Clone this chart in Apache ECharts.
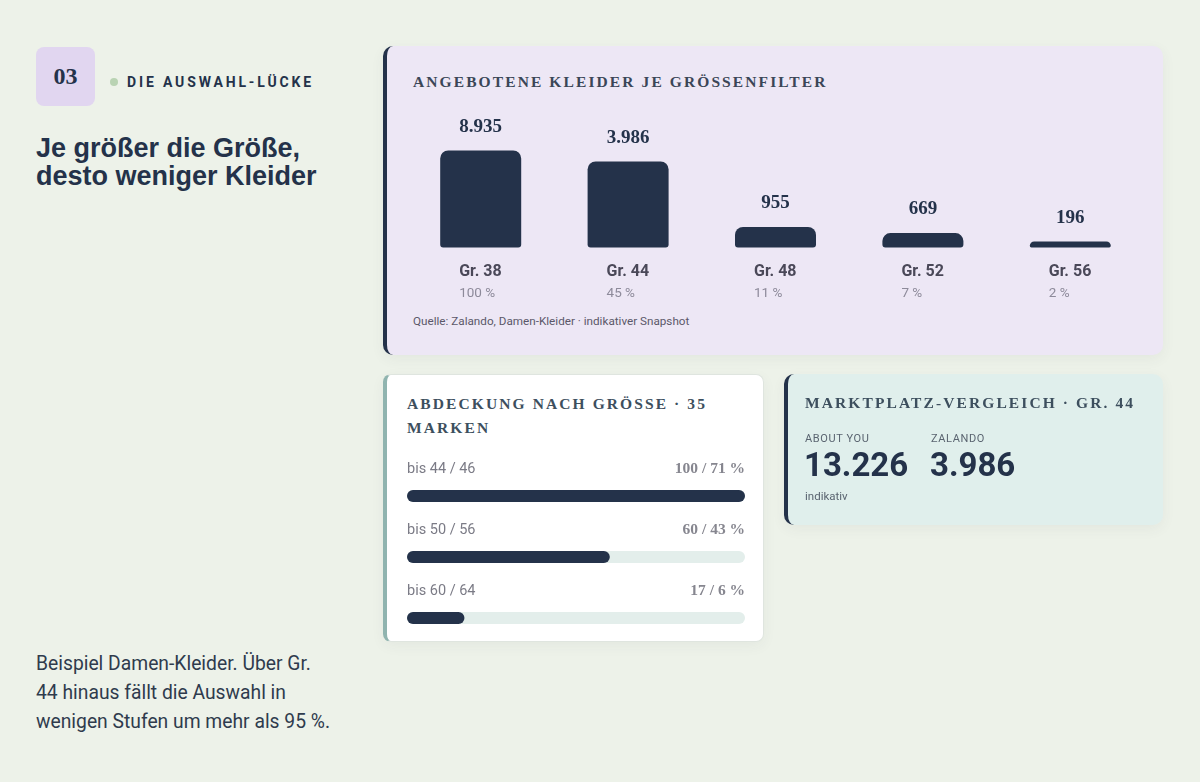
<!DOCTYPE html>
<html><head><meta charset="utf-8">
<script src="https://cdn.jsdelivr.net/npm/echarts@6/dist/echarts.min.js"></script>
<style>
html,body{margin:0;padding:0;width:1200px;height:782px;background:#edf2e9;overflow:hidden;font-family:Roboto,"Noto Sans",sans-serif;}
.abs{position:absolute;}
.badge{left:36px;top:47px;width:59px;height:59px;background:#e1d6f0;border-radius:8px;color:#24324a;font:bold 24px "Liberation Serif",serif;display:flex;align-items:center;justify-content:center;}
.dot{left:110px;top:78px;width:8px;height:8px;border-radius:50%;background:#b9d3b3;}
.kicker{left:127px;top:73px;font:bold 14px Roboto,sans-serif;letter-spacing:2.85px;color:#24324a;line-height:18px;white-space:nowrap;}
.title{left:36px;top:134px;font:bold 27px "Liberation Sans",Arial,sans-serif;color:#24324a;line-height:28px;white-space:nowrap;}
.body{left:36px;top:649px;font:19.3px Roboto,sans-serif;color:#2f3b4d;line-height:29px;white-space:nowrap;}
.card1{left:383px;top:46px;width:776px;height:309px;background:#ede7f5;border-left:4px solid #24324a;border-radius:10px;box-shadow:0 4px 14px rgba(60,60,80,0.06);}
.card2{left:383px;top:374px;width:376px;height:266px;background:#ffffff;border:1px solid #dfe5df;border-left:4px solid #90b4af;border-radius:8px;box-shadow:0 4px 14px rgba(60,60,80,0.05);}
.card3{left:784px;top:374px;width:375px;height:151px;background:#e0efec;border-left:4px solid #24324a;border-radius:10px;box-shadow:0 4px 14px rgba(60,60,80,0.06);}
.ctitle{font:bold 15.5px "Liberation Serif",serif;letter-spacing:2.1px;color:#3b4657;white-space:nowrap;line-height:24px;}
.src{left:413px;top:314px;font:11.7px Roboto,sans-serif;color:#5b5869;white-space:nowrap;line-height:14px;}
.small{font:11px Roboto,sans-serif;color:#5a6470;letter-spacing:0.6px;white-space:nowrap;line-height:14px;}
.big{font:bold 33px Roboto,sans-serif;color:#24324a;white-space:nowrap;line-height:36px;}
</style></head>
<body>
<div class="abs badge">03</div>
<div class="abs dot"></div>
<div class="abs kicker">DIE AUSWAHL-LÜCKE</div>
<div class="abs title">Je größer die Größe,<br>desto weniger Kleider</div>
<div class="abs body">Beispiel Damen-Kleider. Über Gr.<br>44 hinaus fällt die Auswahl in<br>wenigen Stufen um mehr als 95 %.</div>

<div class="abs card1"></div>
<div class="abs ctitle" style="left:413px;top:70px;">ANGEBOTENE KLEIDER JE GRÖSSENFILTER</div>
<div class="abs src">Quelle: Zalando, Damen-Kleider · indikativer Snapshot</div>
<div id="c1" class="abs" style="left:383px;top:46px;width:780px;height:309px;"></div>

<div class="abs card2"></div>
<div class="abs ctitle" style="left:407px;top:392px;color:#3d4f5e;">ABDECKUNG NACH GRÖSSE · 35<br>MARKEN</div>
<div id="c2" class="abs" style="left:383px;top:374px;width:381px;height:300px;"></div>

<div class="abs card3"></div>
<div class="abs ctitle" style="left:805px;top:391px;color:#3d4f5e;">MARKTPLATZ-VERGLEICH · GR. 44</div>
<div class="abs small" id="m1l" style="left:805px;top:432px;"></div>
<div class="abs small" id="m2l" style="left:931px;top:432px;"></div>
<div class="abs big" id="m1v" style="left:804px;top:447px;"></div>
<div class="abs big" id="m2v" style="left:930px;top:447px;"></div>
<div class="abs small" style="left:805px;top:489px;letter-spacing:0;font-size:11.5px;">indikativ</div>

<script>
// ---- data ----
const sizes = ['Gr. 38', 'Gr. 44', 'Gr. 48', 'Gr. 52', 'Gr. 56'];
const dressCounts = [8935, 3986, 955, 669, 196];
const sharePct = [100, 45, 11, 7, 2];

const coverageLabels = ['bis 44 / 46', 'bis 50 / 56', 'bis 60 / 64'];
const coverageBrands = [100, 60, 17];
const coverageShare = [71, 43, 6];

const marketNames = ['ABOUT YOU', 'ZALANDO'];
const marketValues = [13226, 3986];

const fmt = v => String(v).replace(/\B(?=(\d{3})+(?!\d))/g, '.');
const NAVY = '#24324a';

document.getElementById('m1l').textContent = marketNames[0];
document.getElementById('m2l').textContent = marketNames[1];
document.getElementById('m1v').textContent = fmt(marketValues[0]);
document.getElementById('m2v').textContent = fmt(marketValues[1]);

// ---- chart 1 ----
const c1 = echarts.init(document.getElementById('c1'), null, {renderer: 'canvas'});
c1.setOption({
  animation: false,
  grid: {left: 24, top: 104.5, width: 737, height: 97},
  xAxis: {
    type: 'category', data: sizes,
    axisLine: {show: false}, axisTick: {show: false},
    axisLabel: {
      margin: 13,
      formatter: (v, i) => '{a|' + v + '}\n{b|' + sharePct[i] + ' %}',
      rich: {
        a: {fontFamily: 'Roboto', fontWeight: 'bold', fontSize: 16, color: '#4a4858', lineHeight: 22, width: 43, align: 'left'},
        b: {fontFamily: 'Roboto', fontSize: 13.5, color: '#8d8a9a', lineHeight: 22, width: 43, align: 'left'}
      }
    }
  },
  yAxis: {type: 'value', min: 0, max: 4496, show: false, splitLine: {show: false}},
  series: [{
    type: 'bar', data: dressCounts, clip: true,
    barWidth: 81, barMinHeight: 6,
    itemStyle: {color: NAVY, borderRadius: [8, 8, 3, 3]},
    label: {
      show: true, position: 'top', distance: 14,
      formatter: p => fmt(p.value),
      fontFamily: '"Liberation Serif", serif', fontWeight: 'bold', fontSize: 19, color: NAVY
    }
  }]
});

// ---- chart 2 ----
const c2 = echarts.init(document.getElementById('c2'), null, {renderer: 'canvas'});
c2.setOption({
  animation: false,
  grid: {left: 24, top: 91.5, width: 338, height: 183},
  xAxis: {type: 'value', min: 0, max: 100, show: false},
  yAxis: {type: 'category', data: coverageLabels, inverse: true, show: false},
  series: [{
    type: 'bar', barWidth: 12,
    data: coverageBrands,
    showBackground: true,
    backgroundStyle: {color: '#e3eeeb', borderRadius: 6},
    itemStyle: {color: NAVY, borderRadius: 6},
    label: {
      show: true, position: [0, -21], align: 'left', verticalAlign: 'middle',
      formatter: p => '{l|' + coverageLabels[p.dataIndex] + '}{r|' + coverageBrands[p.dataIndex] + ' / ' + coverageShare[p.dataIndex] + ' %}',
      rich: {
        l: {fontFamily: 'Roboto', fontSize: 14.5, color: '#7b7b86', width: 169, align: 'left'},
        r: {fontFamily: '"Liberation Serif", serif', fontWeight: 'bold', fontSize: 15.5, color: '#86868f', width: 169, align: 'right'}
      }
    }
  }]
});
</script>
</body></html>
